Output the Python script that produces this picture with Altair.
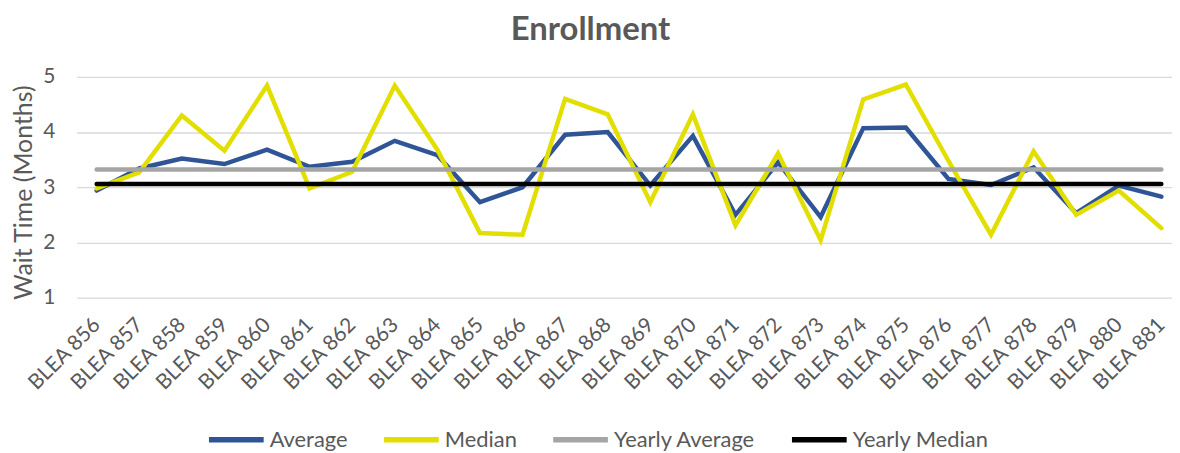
import altair as alt
import pandas as pd

categories = ["BLEA 856", "BLEA 857", "BLEA 858", "BLEA 859", "BLEA 860", "BLEA 861",
              "BLEA 862", "BLEA 863", "BLEA 864", "BLEA 865", "BLEA 866", "BLEA 867",
              "BLEA 868", "BLEA 869", "BLEA 870", "BLEA 871", "BLEA 872", "BLEA 873",
              "BLEA 874", "BLEA 875", "BLEA 876", "BLEA 877", "BLEA 878", "BLEA 879",
              "BLEA 880", "BLEA 881"]
average = [2.94, 3.34, 3.52, 3.42, 3.68, 3.37, 3.46, 3.84, 3.58, 2.73, 3.00, 3.95, 4.00,
           3.03, 3.93, 2.50, 3.45, 2.46, 4.07, 4.08, 3.15, 3.04, 3.36, 2.53, 3.03, 2.83]
median = [2.98, 3.27, 4.30, 3.66, 4.84, 2.98, 3.28, 4.84, 3.68, 2.17, 2.14, 4.60, 4.32,
          2.73, 4.32, 2.31, 3.61, 2.04, 4.59, 4.86, 3.48, 2.14, 3.65, 2.50, 2.94, 2.26]
yearly_average = [3.32] * len(categories)
yearly_median = [3.06] * len(categories)

series_names = ["Average", "Median", "Yearly Average", "Yearly Median"]
series_colors = ["#2F5597", "#E2DF00", "#A5A5A5", "#000000"]

rows = []
for s, vals in zip(series_names, [average, median, yearly_average, yearly_median]):
    for i, (c, v) in enumerate(zip(categories, vals)):
        rows.append({"idx": i, "cat": c, "series": s, "value": v})
df = pd.DataFrame(rows)

label_font = "Lato"
grey_text = "#595959"

cat_js = "[" + ",".join(f"'{c}'" for c in categories) + "]"

chart = alt.Chart(df).mark_line(strokeWidth=4.5, strokeCap="round", strokeJoin="miter").encode(
    x=alt.X("idx:Q",
            scale=alt.Scale(domain=[-0.47, 25.25], nice=False, zero=False),
            axis=alt.Axis(values=list(range(len(categories))),
                          labelExpr=f"{cat_js}[datum.value]",
                          labelAngle=315, labelAlign="right", labelBaseline="middle",
                          labelPadding=24, labelFontSize=21, labelFont=label_font,
                          labelColor=grey_text, grid=False, ticks=False, domain=False,
                          title=None, labelOverlap=False, labelFlush=False)),
    y=alt.Y("value:Q",
            scale=alt.Scale(domain=[1, 5], nice=False, zero=False),
            axis=alt.Axis(values=[1, 2, 3, 4, 5], grid=True, gridColor="#D9D9D9",
                          gridWidth=1.3, ticks=False, domain=False,
                          labelFontSize=21, labelFont=label_font, labelColor=grey_text,
                          labelPadding=22,
                          title="Wait Time (Months)", titleFontSize=25,
                          titleFont=label_font, titleFontWeight="normal",
                          titleColor=grey_text, titleX=-53, titleY=116,
                          titleAngle=270, titleAlign="center", titleBaseline="middle")),
    color=alt.Color("series:N",
                    scale=alt.Scale(domain=series_names, range=series_colors),
                    legend=alt.Legend(title=None, orient="none", direction="horizontal",
                                      legendX=130, legendY=334,
                                      symbolType="stroke", symbolSize=3025,
                                      symbolStrokeWidth=5.5, labelFontSize=22,
                                      labelFont=label_font, labelColor=grey_text,
                                      columnPadding=25, labelOffset=3, padding=0)),
    order=alt.Order("idx:Q"),
    detail="series:N",
).properties(
    width=1101,
    height=222,
    autosize=alt.AutoSizeParams(type="none"),
    padding={"left": 69, "top": 68, "right": 0, "bottom": 155},
    title=alt.TitleParams("Enrollment", fontSize=33, fontWeight="bold", font=label_font,
                          color=grey_text, anchor="middle", dx=-34, offset=19),
).configure_view(stroke=None)

chart.save("out.html", embed_options={"renderer": "svg", "actions": False})
